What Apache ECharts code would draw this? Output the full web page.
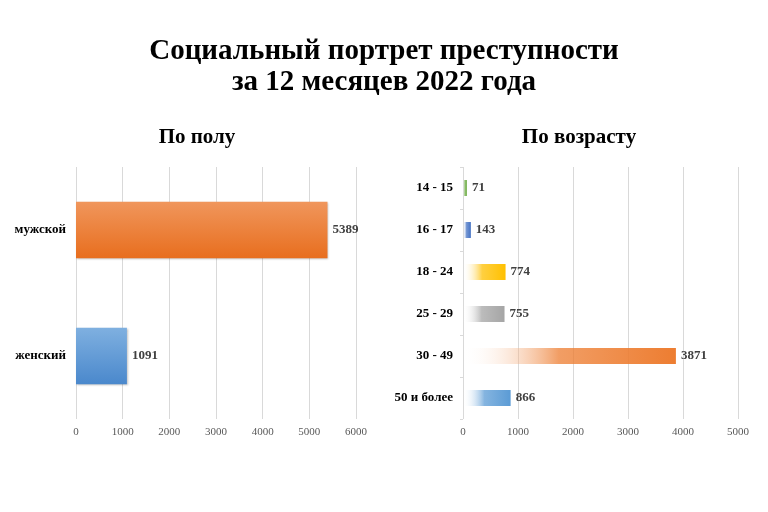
<!DOCTYPE html>
<html><head><meta charset="utf-8">
<script src="https://cdn.jsdelivr.net/npm/echarts@6/dist/echarts.min.js"></script>
<style>html,body{margin:0;padding:0;background:#fff}#c{width:768px;height:512px}</style>
</head><body><div id="c"></div>
<script>
const sexCategories = ['женский', 'мужской'];
const sexValues = [1091, 5389];
const ageCategories = ['50 и более', '30 - 49', '25 - 29', '18 - 24', '16 - 17', '14 - 15'];
const ageValues = [866, 3871, 755, 774, 143, 71];
const ageColors = ['#5B9BD5', '#ED7D31', '#A5A5A5', '#FFC000', '#4472C4', '#70AD47'];
const sexColors = [['#7FB0E0','#4A88CC'], ['#F0965C','#E86E1E']];

const serif = '"Liberation Serif", "Times New Roman", serif';
const chart = echarts.init(document.getElementById('c'));

function vGrad(c) {
  return new echarts.graphic.LinearGradient(0, 0, 0, 1, [{offset:0,color:c[0]},{offset:1,color:c[1]}]);
}
function hGrad(c) {
  return new echarts.graphic.LinearGradient(0, 0, 1, 0, [{offset:0,color:'rgba(255,255,255,0)'},{offset:0.45,color:echarts.color.modifyAlpha(c,0.75)},{offset:1,color:c}]);
}

const valueAxisCommon = {
  type: 'value', min: 0, interval: 1000,
  axisLine: {show:false}, axisTick: {show:false},
  splitLine: {lineStyle: {color:'#d9d9d9'}},
  axisLabel: {fontFamily: serif, fontSize: 11, color: '#595959', margin: 8, formatter: v => String(v)}
};

chart.setOption({
  backgroundColor: '#fff',
  title: [
    {text: 'Социальный портрет преступности\nза 12 месяцев 2022 года', left: 'center', top: 31,
     textStyle: {fontFamily: serif, fontSize: 29, fontWeight: 'bold', color: '#000', lineHeight: 31}},
    {text: 'По полу', left: 192, textAlign: 'center', top: 122,
     textStyle: {fontFamily: serif, fontSize: 21, fontWeight: 'bold', color: '#000'}},
    {text: 'По возрасту', left: 574, textAlign: 'center', top: 122,
     textStyle: {fontFamily: serif, fontSize: 21, fontWeight: 'bold', color: '#000'}}
  ],
  grid: [
    {left: 76, width: 280, top: 167, height: 252},
    {left: 463, width: 275, top: 167, height: 252}
  ],
  xAxis: [
    Object.assign({gridIndex: 0, max: 6000}, valueAxisCommon),
    Object.assign({gridIndex: 1, max: 5000}, valueAxisCommon)
  ],
  yAxis: [
    {type: 'category', gridIndex: 0, data: sexCategories,
     axisLine: {show:false}, axisTick: {show:false},
     axisLabel: {fontFamily: serif, fontSize: 13, fontWeight: 'bold', color: '#000', margin: 10}},
    {type: 'category', gridIndex: 1, data: ageCategories,
     axisLine: {show:false}, axisTick: {show:true, length: 3, lineStyle:{color:'#d9d9d9'}},
     axisLabel: {fontFamily: serif, fontSize: 13, fontWeight: 'bold', color: '#000', margin: 10}}
  ],
  series: [
    {type: 'bar', xAxisIndex: 0, yAxisIndex: 0, barWidth: '45%',
     data: sexValues.map((v, i) => ({value: v, itemStyle: {color: vGrad(sexColors[i])}})),
     itemStyle: {shadowColor: 'rgba(0,0,0,0.25)', shadowBlur: 2, shadowOffsetX: 1, shadowOffsetY: 1},
     label: {show: true, position: 'right', fontFamily: serif, fontSize: 13, fontWeight: 'bold', color: '#404040', distance: 5}},
    {type: 'bar', xAxisIndex: 1, yAxisIndex: 1, barWidth: '38%',
     data: ageValues.map((v, i) => ({value: v, itemStyle: {color: hGrad(ageColors[i])}})),
     label: {show: true, position: 'right', fontFamily: serif, fontSize: 13, fontWeight: 'bold', color: '#404040', distance: 5}}
  ]
});
</script></body></html>
